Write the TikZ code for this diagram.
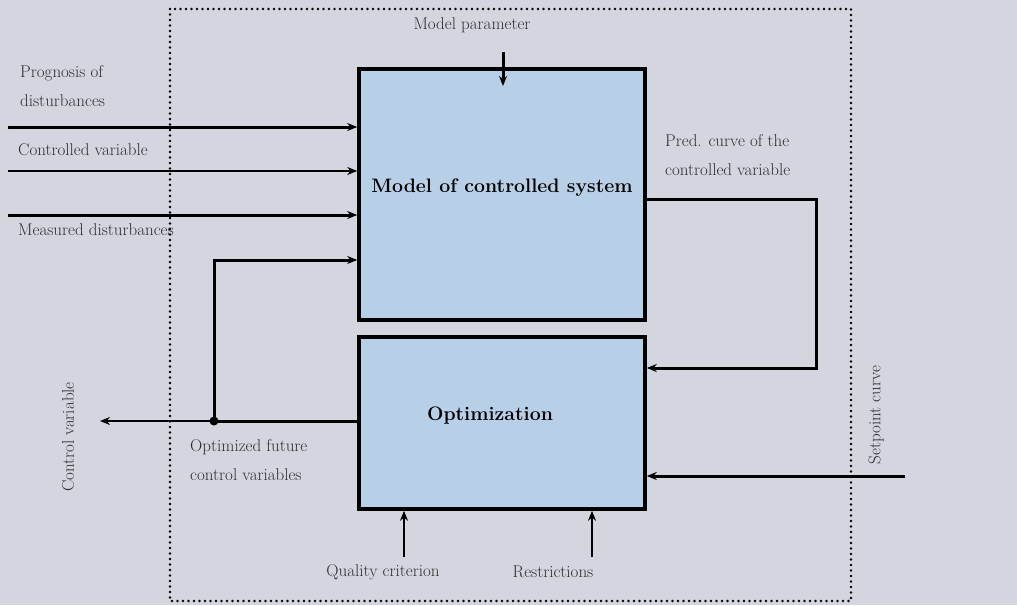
\documentclass[tikz,border=0pt]{standalone}
\usetikzlibrary{arrows.meta,calc}
\definecolor{bgc}{HTML}{D3D6DE}
\definecolor{boxc}{HTML}{B8CFE8}
\definecolor{txtc}{HTML}{2E2E2E}
\begin{document}
\begin{tikzpicture}[x=1pt,y=-1pt,
  blockbox/.style={draw=black,line width=3.6pt,fill=boxc,inner sep=0pt},
  title/.style={font=\fontsize{19.5}{22}\selectfont\bfseries},
  lbl/.style={text=txtc,font=\fontsize{17}{19}\selectfont,inner sep=0pt},
  heavy/.style={line width=3pt,-{Stealth[length=10pt,width=8pt]}},
  light/.style={line width=1.6pt,-{Stealth[length=10pt,width=8pt]}},
  frame/.style={line width=2.6pt,line cap=round,dash pattern=on 0pt off 5.5pt}]
\useasboundingbox (0,0) rectangle (1017,605);
\fill[bgc] (0,0) rectangle (1017,605);

% system boundary
\draw[frame] (170,9) rectangle (851,601);

% blocks
\node[blockbox,minimum width=286pt,minimum height=251pt] (model) at (502,194.5) {};
\node[title] (modeltxt) at (502,188) {Model of controlled system};
\node[blockbox,minimum width=286pt,minimum height=172pt] (opt) at (502,423) {};
\node[title] (opttxt) at (490,416) {Optimization};

% model parameter input
\node[lbl] (mp) at (472,25) {Model parameter};
\coordinate (mpa) at (503,52);
\coordinate (mpb) at (503,86);
\draw[heavy] (mpa) -- (mpb);

% inputs on the left of the model
\node[lbl,anchor=west] (prog1) at (20,73) {Prognosis of};
\node[lbl,anchor=west] (prog2) at (20,101) {disturbances};
\node[lbl,anchor=west] (cv) at (18,150) {Controlled variable};
\node[lbl,anchor=west] (md) at (18,230) {Measured disturbances};
\coordinate (in1) at (8,127);
\coordinate (in2) at (8,171);
\coordinate (in3) at (8,215);
\draw[heavy] (in1) -- (in1 -| model.west);
\draw[light] (in2) -- (in2 -| model.west);
\draw[heavy] (in3) -- (in3 -| model.west);

% optimizer output and feedback
\coordinate (junc) at (214,421);
\coordinate (cvout) at (100,421);
\coordinate (fbk) at (214,260);
\draw[line width=3pt] (opt.west |- junc) -- (junc);
\draw[light] (junc) -- (cvout);
\draw[heavy] (junc) -- (fbk) -- (fbk -| model.west);
\fill (junc) circle (4.5pt);
\node[lbl,rotate=90] (cvlab) at (68,437) {Control variable};
\node[lbl,anchor=west] (of1) at (190,447) {Optimized future};
\node[lbl,anchor=west] (of2) at (190,475) {control variables};

% predicted curve from model to optimizer
\coordinate (pc1) at (816,199);
\coordinate (pc2) at (816,368);
\draw[heavy] (model.east |- pc1) -- (pc1) -- (pc2) -- (pc2 -| opt.east);
\node[lbl,anchor=west] (pr1) at (665,141) {Pred. curve of the};
\node[lbl,anchor=west] (pr2) at (665,170) {controlled variable};

% setpoint curve
\coordinate (sp) at (905,476);
\draw[heavy] (sp) -- (sp -| opt.east);
\node[lbl,rotate=90] (splab) at (876,415) {Setpoint curve};

% bottom inputs
\coordinate (qc) at (404,557);
\coordinate (rs) at (592,557);
\draw[light] (qc) -- (qc |- opt.south);
\draw[light] (rs) -- (rs |- opt.south);
\node[lbl] (qclab) at (383,572) {Quality criterion};
\node[lbl] (rslab) at (553,572) {Restrictions};
\end{tikzpicture}
\end{document}
